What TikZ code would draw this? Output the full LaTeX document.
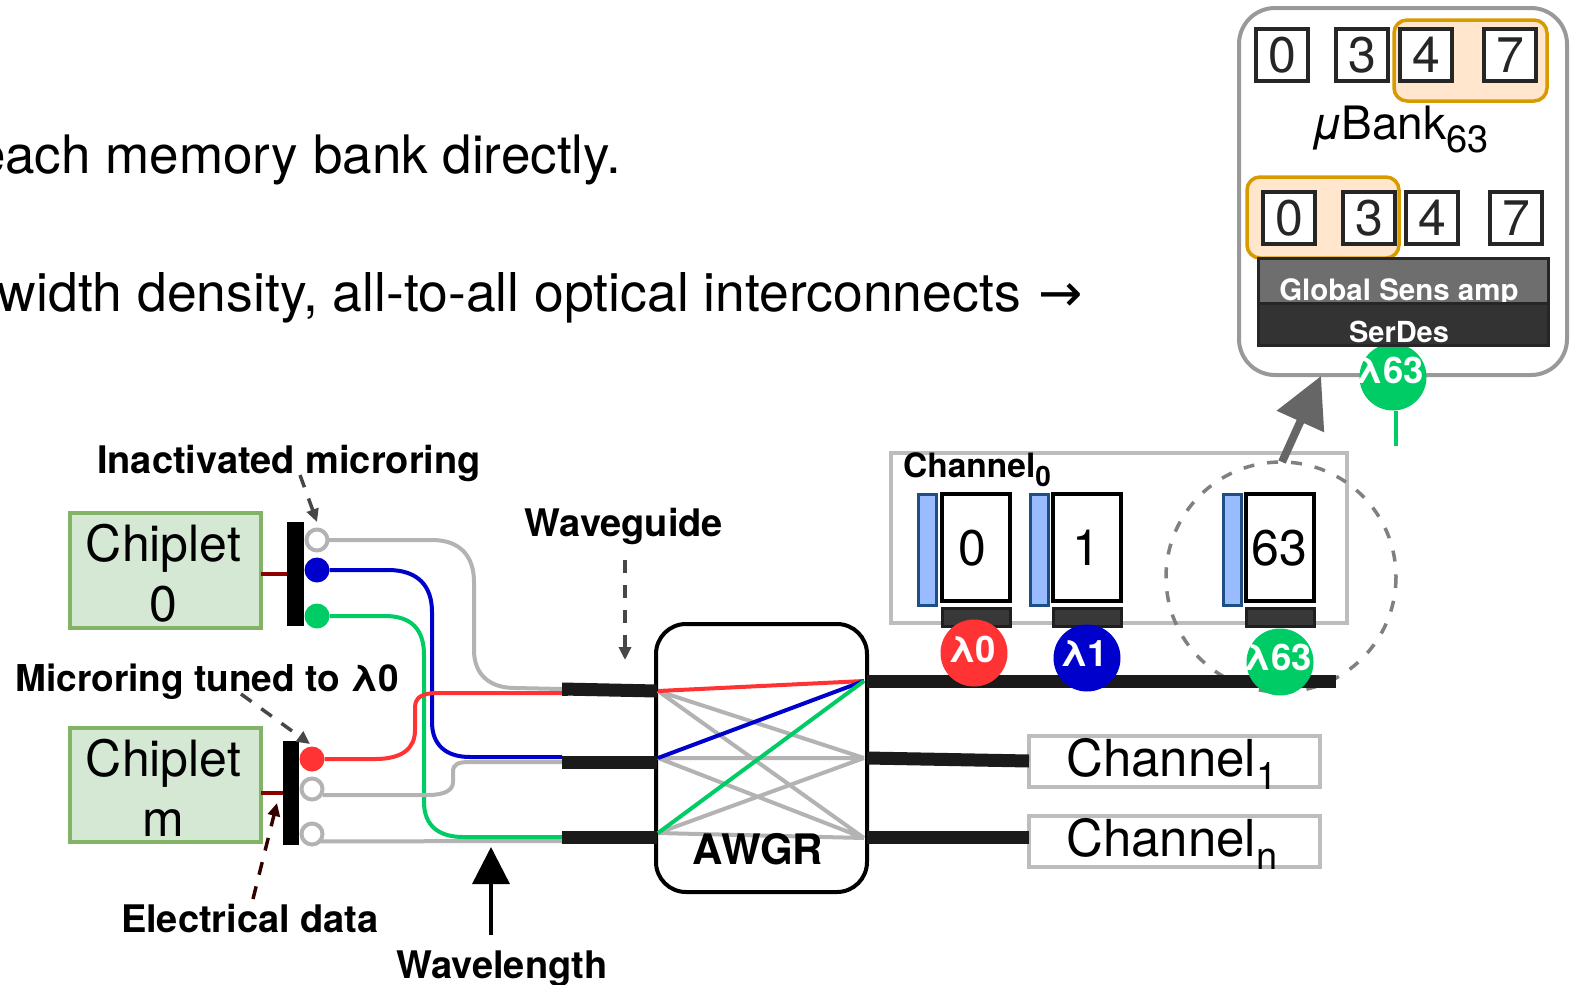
\documentclass[tikz,border=0pt]{standalone}
\usepackage{fontspec}
\setmainfont{TeX Gyre Heros}
\newfontfamily\arrowfont{DejaVu Sans}
\usetikzlibrary{arrows.meta}
\definecolor{cred}{HTML}{FF3333}
\definecolor{cblue}{HTML}{0000CC}
\definecolor{cgreen}{HTML}{00CC66}
\definecolor{cgray}{HTML}{B3B3B3}
\definecolor{cbox}{HTML}{BDBDBD}
\definecolor{wg}{HTML}{1A1A1A}
\definecolor{hlb}{HTML}{D79B00}
\definecolor{hlf}{HTML}{FFE6CC}
\definecolor{blb}{HTML}{1F4E85}
\definecolor{blf}{HTML}{99BBFF}
\definecolor{chb}{HTML}{82B366}
\definecolor{chf}{HTML}{D5E8D4}
\newcommand{\fsz}[1]{\fontsize{#1pt}{#1pt}\selectfont}
\newcommand{\lowtxt}[3]{\raisebox{-#2pt}{\fsz{#1}#3}}
% \bx[style]{name}{x1}{y1}{x2}{y2}{text}
\newcommand{\bx}[6][]{\node[rect,#1,minimum width={#5-#3},minimum height={#6-#4}] (#2) at ({(#3+#5)/2},{(#4+#6)/2})}
\tikzset{
  rect/.style={rectangle,inner sep=0pt,outer sep=0pt},
  outerbox/.style={draw=black!40,line width=4pt,fill=white,rounded corners=36pt},
  hilite/.style={draw=hlb,fill=hlf,line width=3.5pt,rounded corners=13pt},
  memcell/.style={draw=black!85,line width=3.5pt,fill=white,text=black!85,font=\fsz{50}},
  sensbox/.style={draw=black!85,line width=3pt,fill=black!57},
  serbox/.style={draw=black!85,line width=3pt,fill=black!80},
  chanbox/.style={draw=cbox,line width=3.5pt},
  memcol/.style={draw=black,line width=3.5pt,fill=white},
  bluebar/.style={draw=blb,line width=3pt,fill=blf},
  darkpad/.style={draw=black!88,line width=3pt,fill=black!78},
  chiplet/.style={draw=chb,line width=4pt,fill=chf},
  chiptxt/.style={inner sep=0pt,align=center,font=\fsz{50}},
  barn/.style={fill=black},
  lam/.style={circle,minimum size=67pt,inner sep=0pt,outer sep=0pt},
  lamtxt/.style={inner sep=0pt,anchor=base,text=white,font=\bfseries\fsz{36.5}},
  ringoff/.style={circle,draw=cgray,line width=4pt,fill=white,minimum size=21pt,inner sep=0pt,outer sep=0pt},
  ringon/.style={circle,minimum size=25pt,inner sep=0pt,outer sep=0pt},
  lbl/.style={inner sep=0pt,anchor=base,font=\bfseries\fsz{38}},
  wire/.style={line width=4pt},
  thick wg/.style={draw=wg,line width=13pt},
  note/.style={draw=black!72,line width=3.5pt,dash pattern=on 13pt off 12pt,-{Triangle[length=13pt,width=12pt]}}
}
\begin{document}
\begin{tikzpicture}[x=1pt,y=-1pt]
\useasboundingbox (0,0) rectangle (1575,985);
\clip (0,0) rectangle (1575,985);
\fill[white] (0,0) rectangle (1575,985);

% body text
\node[inner sep=0pt,anchor=base east,font=\fsz{53}] (line1) at (621,173) {each memory bank directly.};
\node[inner sep=0pt,anchor=base east,font=\fsz{53.5}] (line2) at (1021,311) {width density, all-to-all optical interconnects};
\node[inner sep=0pt,anchor=base west,font=\arrowfont\fsz{53}] (line2a) at (1038,311) {→};

% channel 0 group
\bx[chanbox]{chan0}{891}{453}{1347}{623}{};
\node[inner sep=0pt,anchor=base west,font=\bfseries\fsz{33.5}] (chan0t) at (903,477) {Channel\lowtxt{28}{9}{0}};
\draw[draw=black!50,line width=3.5pt,dash pattern=on 11pt off 13pt] (1281,577) circle[radius=115];
\foreach \n/\xb/\xm/\t/\tx in {a/918/942/0/972,b/1030/1053/1/1086,c/1223/1246/63/1279}{
  \bx[bluebar]{blue\n}{\xb}{494}{\xb+18}{605}{};
  \bx[memcol]{col\n}{\xm}{494}{\xm+68}{601}{};
  \node[inner sep=0pt,font=\fsz{50}] (coltxt\n) at (\tx,548) {\t};
  \bx[darkpad]{pad\n}{\xm}{608}{\xm+68}{626}{};
}

% switch fabric
\bx[draw=black,line width=4pt,fill=white,rounded corners=30pt]{awgr}{656}{624}{867}{892}{};
\coordinate (L1) at (658,691); \coordinate (L2) at (658,758); \coordinate (L3) at (658,833);
\coordinate (R1) at (864,681); \coordinate (R2) at (864,758); \coordinate (R3) at (864,838);
\draw[cgray,wire] (L1)--(R2) (L1)--(R3) (L2)--(R2) (L2)--(R3) (L3)--(R2) (L3)--(R3);
\draw[cred,wire] (L1)--(R1);
\draw[cblue,wire] (L2)--(R1);
\draw[cgreen,wire] (L3)--(R1);
\node[inner sep=0pt,anchor=base,font=\bfseries\fsz{42}] (awgrt) at (758,864) {AWGR};

% channels 1 and n
\bx[chanbox]{chan1}{1029}{736}{1320}{787}{};
\bx[chanbox]{chann}{1029}{816}{1320}{867}{};
\node[inner sep=0pt,anchor=base west,font=\fsz{51}] (chan1t) at (1066,776) {Channel\lowtxt{38}{13}{1}};
\node[inner sep=0pt,anchor=base west,font=\fsz{51}] (channt) at (1066,856) {Channel\lowtxt{38}{13}{n}};

% waveguides
\coordinate (WA) at (562,689); \coordinate (WB) at (562,762); \coordinate (WC) at (562,837);
\draw[thick wg] (WA) -- (657,691);
\draw[thick wg] (WB) -- (657,762);
\draw[thick wg] (WC) -- (657,837);
\draw[thick wg] (867,681) -- (1336,681);
\draw[thick wg] (867,758) -- (chan1.west |- 0,761);
\draw[thick wg] (867,837) -- (chann.west |- 0,837);

% wavelength circles on channel 0
\node[lam,fill=cred] (l0) at (974,653) {};
\node[lam,fill=cblue] (l1) at (1087,658) {};
\node[lam,fill=cgreen] (l63) at (1280,662) {};
\node[lamtxt] (l0t) at (972,662) {λ0};
\node[lamtxt] (l1t) at (1084,666) {λ1};
\node[lamtxt] (l63t) at (1278,670) {λ63};

% chiplets
\bx[chiplet]{chip0}{70}{513}{261}{628}{};
\bx[chiplet]{chipm}{70}{728}{261}{842}{};
\node[chiptxt] (chip0t) at (163.5,573) {Chiplet\\[10pt]0};
\node[chiptxt] (chipmt) at (163.5,787.5) {Chiplet\\[10pt]m};
\bx[barn]{bar0}{287}{522}{304}{626}{};
\bx[barn]{barm}{283}{741}{299}{845}{};
\draw[draw=red!55!black,line width=3.5pt] (chip0.east |- 0,574) -- (bar0.west |- 0,574);
\draw[draw=red!55!black,line width=3.5pt] (chipm.east |- 0,793) -- (barm.west |- 0,793);

% wires from rings
\node[ringoff] (r1) at (317,540) {};
\node[ringon,fill=cblue] (r2) at (317,570) {};
\node[ringon,fill=cgreen] (r3) at (317,616) {};
\node[ringon,fill=cred] (r4) at (312,759) {};
\node[ringoff] (r5) at (312,789) {};
\node[ringoff] (r6) at (312,834) {};

\draw[cgray,wire] (r6.south east) -- (WC |- 0,841);
\draw[cgreen,wire] (r3.east) -- (385,616) .. controls (412,616) and (424,630) .. (424,655) -- (424,802) .. controls (424,825) and (438,837) .. (463,837) -- (WC);
\draw[cgray,wire] (r1.east) -- (432,540) .. controls (460,540) and (474,556) .. (474,582) -- (474,650) .. controls (474,675) and (490,688) .. (515,688) -- (WA);
\draw[cblue,wire] (r2.east) -- (388,570) .. controls (418,570) and (432,586) .. (432,612) -- (432,722) .. controls (432,745) and (446,757) .. (470,757) -- (WB |- 0,757);
\draw[cgray,wire] (r5.east |- 0,795) -- (428,795) .. controls (445,795) and (453,790) .. (453,782) -- (453,772) .. controls (453,764) and (458,762) .. (470,762) -- (WB);
\draw[cred,wire] (r4.east) -- (375,759) .. controls (403,759) and (415,748) .. (415,730) -- (415,708) .. controls (415,697) and (422,693) .. (438,693) -- (WA |- 0,693);
\draw[thick wg] (WA) -- ++(6,0);
\draw[thick wg] (WB) -- ++(6,0);
\draw[thick wg] (WC) -- ++(6,0);

% labels and pointers
\node[lbl] (tin) at (289,473) {Inactivated microring};
\node[lbl,font=\bfseries\fsz{37}] (ttu) at (207,691) {Microring tuned to λ0};
\node[lbl] (tel) at (250,932) {Electrical data};
\node[lbl] (twv) at (624,536) {Waveguide};
\node[lbl] (twl) at (502,978) {Wavelength};
\coordinate (ptinA) at (300,475); \coordinate (ptinB) at (317,522);
\coordinate (pttuA) at (241,694); \coordinate (pttuB) at (310,744);
\coordinate (ptelA) at (253,899); \coordinate (ptelB) at (277,803);
\coordinate (ptwvA) at (625,560); \coordinate (ptwvB) at (625,660);
\coordinate (ptwlA) at (491,935); \coordinate (ptwlB) at (491,847);
\draw[note] (ptinA) -- (ptinB);
\draw[note] (pttuA) -- (pttuB);
\draw[note,draw=black!80!red] (ptelA) -- (ptelB);
\draw[note] (ptwvA) -- (ptwvB);
\draw[line width=3.5pt,-{Triangle[length=37pt,width=37pt]}] (ptwlA) -- (ptwlB);

% bank callout
\bx[outerbox]{bank}{1239}{8}{1567}{375}{};
\bx[hilite]{hl1}{1394}{20}{1547}{101}{};
\bx[hilite]{hl2}{1247}{177}{1399}{258}{};
\foreach \n/\xa/\t in {a/1256/0,b/1336/3,c/1400/4,d/1484/7}{
  \bx[memcell]{top\n}{\xa}{29}{\xa+52}{81}{\t};
}
\foreach \n/\xa/\t in {a/1263/0,b/1343/3,c/1406/4,d/1490/7}{
  \bx[memcell]{bot\n}{\xa}{192}{\xa+52}{244}{\t};
}
\node[inner sep=0pt,anchor=base,font=\fsz{46}] (ubank) at (1400,139) {\textit{μ}\kern-2ptBank\lowtxt{38}{13}{63}};
\bx[sensbox]{sens}{1258}{258}{1548}{303}{};
\node[inner sep=0pt,anchor=base,text=white,font=\bfseries\fsz{29.5}] (senst) at (1399,300) {Global Sens amp};
\node[lam,fill=cgreen] (l63b) at (1393,377) {};
\bx[serbox]{ser}{1258}{303}{1548}{345}{};
\node[inner sep=0pt,anchor=base,text=white,font=\bfseries\fsz{29}] (sert) at (1399,342) {SerDes};
\node[lamtxt] (l63bt) at (1390,383) {λ63};
\coordinate (stem) at (1396,446);
\draw[cgreen,line width=3.5pt] (l63b.south -| stem) -- (stem);
\coordinate (zoomA) at (1282,462);
\draw[draw=black!60,line width=8pt,-{Triangle[length=50pt,width=50pt]}] (zoomA) -- (1321,376);
\end{tikzpicture}
\end{document}
